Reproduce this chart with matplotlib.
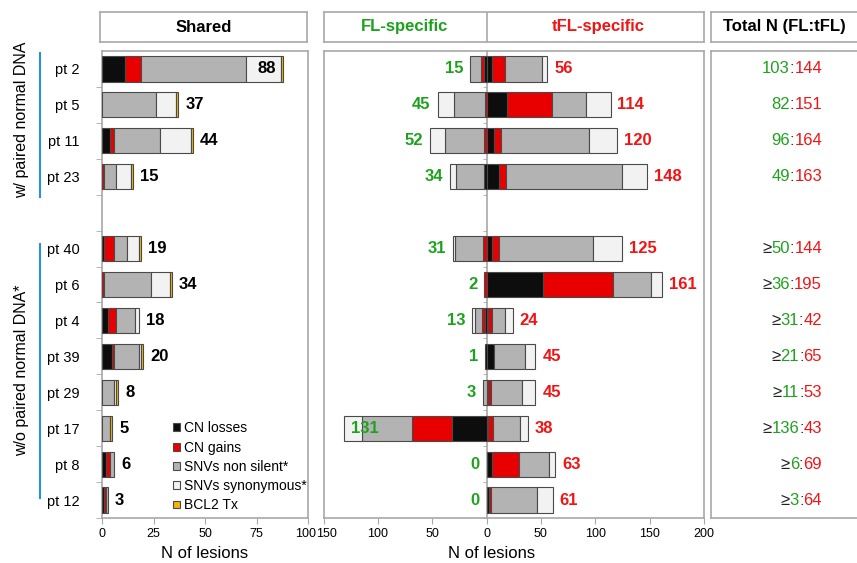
import numpy as np
import matplotlib.pyplot as plt
from matplotlib.patches import Patch
from matplotlib.lines import Line2D
from matplotlib.transforms import ScaledTranslation

plt.rcParams['font.family'] = ['Liberation Sans', 'DejaVu Sans']

# patients, two groups separated by an empty row
group1 = ['pt 2', 'pt 5', 'pt 11', 'pt 23']
group2 = ['pt 40', 'pt 6', 'pt 4', 'pt 39', 'pt 29', 'pt 17', 'pt 8', 'pt 12']
patients = group1 + group2

# shared lesions
shared_loss = [11, 0, 4, 0, 1, 0, 3, 5, 0, 0, 2, 1]
shared_gain = [8, 0, 2, 1, 5, 1, 4, 1, 0, 0, 2, 1]
shared_nonsil = [51, 26, 22, 6, 6, 23, 9, 12, 6, 4, 2, 1]
shared_syn = [17, 10, 15, 7, 6, 9, 2, 1, 1, 0, 0, 0]
shared_bcl2 = [1, 1, 1, 1, 1, 1, 0, 1, 1, 1, 0, 0]

# FL-specific lesions
fl_loss = [2, 0, 0, 2, 0, 0, 1, 1, 0, 32, 0, 0]
fl_gain = [3, 1, 2, 0, 3, 2, 3, 0, 0, 37, 0, 0]
fl_nonsil = [10, 29, 36, 26, 26, 0, 7, 0, 3, 46, 0, 0]
fl_syn = [0, 15, 14, 6, 2, 0, 2, 0, 0, 16, 0, 0]

# tFL-specific lesions
tfl_loss = [5, 19, 7, 11, 5, 52, 1, 7, 1, 1, 5, 2]
tfl_gain = [12, 41, 6, 7, 6, 64, 4, 0, 3, 5, 25, 2]
tfl_nonsil = [34, 31, 81, 107, 87, 35, 12, 28, 29, 25, 27, 42]
tfl_syn = [5, 23, 26, 23, 27, 10, 7, 10, 12, 7, 6, 15]

# total N (FL:tFL)
total_fl = [103, 82, 96, 49, 50, 36, 31, 21, 11, 136, 6, 3]
total_tfl = [144, 151, 164, 163, 144, 195, 42, 65, 53, 43, 69, 64]

categories = ['CN losses', 'CN gains', 'SNVs non silent*', 'SNVs synonymous*', 'BCL2 Tx']
colors = ['#0d0d0d', '#e80000', '#b3b3b3', '#f2f2f2', '#f2b705']

GREEN = '#1ea21e'
RED = '#f01414'
GRID = '#a8a8a8'
EDGE = '#4a4a4a'

rows = np.array(list(range(len(group1))) + list(range(len(group1) + 1, len(patients) + 1)))
nrows = len(patients) + 1

W, H = 857, 563
fig = plt.figure(figsize=(W / 100, H / 100), dpi=100)


def box(x0, y0, x1, y1):
    return [x0 / W, 1 - y1 / H, (x1 - x0) / W, (y1 - y0) / H]


ax_sh = fig.add_axes(box(102, 51, 308, 518))
ax_mid = fig.add_axes(box(323.5, 51, 704, 518))
ax_tot = fig.add_axes(box(711, 51, 875, 518))
hd_sh = fig.add_axes(box(100, 12, 307, 42))
hd_mid = fig.add_axes(box(323.5, 12, 704, 42))
hd_tot = fig.add_axes(box(711, 12, 875, 42))


def stacked(ax, parts, sign=1):
    left = np.zeros(len(rows))
    for vals, col in zip(parts, colors):
        vals = np.array(vals, dtype=float)
        m = vals > 0
        ax.barh(rows[m], sign * vals[m], left=sign * left[m], height=0.7,
                color=col, edgecolor=EDGE, linewidth=0.8, zorder=3)
        left += vals
    return left


def frame(ax):
    for s in ax.spines.values():
        s.set_color(GRID)
        s.set_linewidth(1.2)


def nudge(label, dx):
    label.set_transform(label.get_transform() + ScaledTranslation(dx / 72, 0, fig.dpi_scale_trans))


for ax in (ax_sh, ax_mid, ax_tot):
    ax.set_ylim(nrows - 0.5, -0.5)
    frame(ax)

# ---- shared panel
sh_tot = stacked(ax_sh, [shared_loss, shared_gain, shared_nonsil, shared_syn, shared_bcl2])
ax_sh.set_xlim(0, 100)
ax_sh.set_xticks([0, 25, 50, 75, 100])
ax_sh.set_yticks(rows)
ax_sh.set_yticklabels(patients, fontsize=10.5)
ax_sh.set_yticks(np.arange(0.5, nrows), minor=True)
ax_sh.tick_params(axis='y', which='major', length=0, pad=16)
ax_sh.tick_params(axis='y', which='minor', length=4, color=GRID)
ax_sh.tick_params(axis='x', length=4, color=GRID, labelsize=9)
ax_sh.set_xlabel('N of lesions', fontsize=12)
for r, v in zip(rows, sh_tot):
    if v > 80:
        ax_sh.text(v - 3.5, r, f'{v:.0f}', ha='right', va='center',
                   fontsize=12, fontweight='bold', zorder=5)
    else:
        ax_sh.annotate(f'{v:.0f}', (v, r), xytext=(5, 0), textcoords='offset points',
                       ha='left', va='center', fontsize=12, fontweight='bold')

handles = [Patch(facecolor=c, edgecolor=EDGE, linewidth=0.8) for c in colors]
ax_sh.legend(handles, categories, loc='lower left', bbox_to_anchor=(0.33, 0.006),
             borderaxespad=0, frameon=False, fontsize=10, handlelength=0.5,
             handleheight=0.5, handletextpad=0.3, labelspacing=0.38, borderpad=0.2)

# ---- FL / tFL specific panel
fl_sum = stacked(ax_mid, [fl_loss, fl_gain, fl_nonsil, fl_syn], sign=-1)
tfl_sum = stacked(ax_mid, [tfl_loss, tfl_gain, tfl_nonsil, tfl_syn], sign=1)
ax_mid.set_xlim(-150, 200)
xt = np.arange(-150, 201, 50)
ax_mid.set_xticks(xt)
ax_mid.set_xticklabels([str(abs(t)) for t in xt])
ax_mid.tick_params(axis='x', length=4, color=GRID, labelsize=9)
ax_mid.spines['left'].set_position(('data', 0))
ax_mid.plot([0, 0], [0, 1], transform=ax_mid.transAxes, color=GRID, lw=1.2, clip_on=False)
ax_mid.set_yticks([])
ax_mid.set_yticks(np.arange(0.5, nrows), minor=True)
ax_mid.tick_params(axis='y', which='minor', length=3, color=GRID, labelleft=False)
ax_mid.set_xlabel('N of lesions', fontsize=12, x=0.443)
for r, v in zip(rows, fl_sum):
    if v > 120:
        ax_mid.annotate(f'{v:.0f}', (-v, r), xytext=(5, 0), textcoords='offset points',
                        ha='left', va='center', fontsize=12, fontweight='bold',
                        color=GREEN, zorder=5)
    else:
        ax_mid.annotate(f'{v:.0f}', (-v, r), xytext=(-5, 0), textcoords='offset points',
                        ha='right', va='center', fontsize=12, fontweight='bold', color=GREEN)
for r, v in zip(rows, tfl_sum):
    ax_mid.annotate(f'{v:.0f}', (v, r), xytext=(5, 0), textcoords='offset points',
                    ha='left', va='center', fontsize=12, fontweight='bold', color=RED)

# keep the neighbouring end labels (100 | 150) apart
nudge(ax_sh.get_xticklabels()[-1], -1.5)
nudge(ax_mid.get_xticklabels()[0], 2.5)

# ---- totals panel
ax_tot.set_xlim(0, 1)
ax_tot.set_xticks([])
ax_tot.set_yticks([])
for i, (r, a, b) in enumerate(zip(rows, total_fl, total_tfl)):
    t = ax_tot.text(0.677, r, str(b), color=RED, ha='right', va='center', fontsize=12)
    t = ax_tot.annotate(':', xy=(0, 0), xycoords=t, ha='right', va='bottom',
                        color='#333333', fontsize=12)
    t = ax_tot.annotate(str(a), xy=(0, 0), xycoords=t, ha='right', va='bottom',
                        color=GREEN, fontsize=12)
    if i >= len(group1):
        ax_tot.annotate('≥', xy=(0, 0), xycoords=t, ha='right', va='bottom',
                        color='#222222', fontsize=12)

# ---- header boxes
for hd in (hd_sh, hd_mid, hd_tot):
    hd.set_xticks([])
    hd.set_yticks([])
    frame(hd)
hd_sh.text(0.5, 0.5, 'Shared', ha='center', va='center', fontsize=12, fontweight='bold')
hd_mid.set_xlim(-150, 200)
hd_mid.set_ylim(0, 1)
hd_mid.axvline(0, color=GRID, lw=1.2)
hd_mid.text(-75, 0.5, 'FL-specific', ha='center', va='center', fontsize=12,
            fontweight='bold', color=GREEN)
hd_mid.text(103, 0.5, 'tFL-specific', ha='center', va='center', fontsize=12,
            fontweight='bold', color=RED)
hd_tot.text(0.448, 0.5, 'Total N (FL:tFL)', ha='center', va='center', fontsize=12,
            fontweight='bold')

# ---- group labels on the left
fig.text(22 / W, 1 - 120 / H, 'w/ paired normal DNA', rotation=90,
         ha='center', va='center', fontsize=11.5)
fig.text(22 / W, 1 - 370 / H, 'w/o paired normal DNA*', rotation=90,
         ha='center', va='center', fontsize=11.5)
fig.add_artist(Line2D([40 / W, 40 / W], [1 - 53 / H, 1 - 197 / H], color='#2b8fd6', lw=1.5))
fig.add_artist(Line2D([40 / W, 40 / W], [1 - 244 / H, 1 - 498 / H], color='#2b8fd6', lw=1.5))

fig.savefig('out.png', dpi=100)
